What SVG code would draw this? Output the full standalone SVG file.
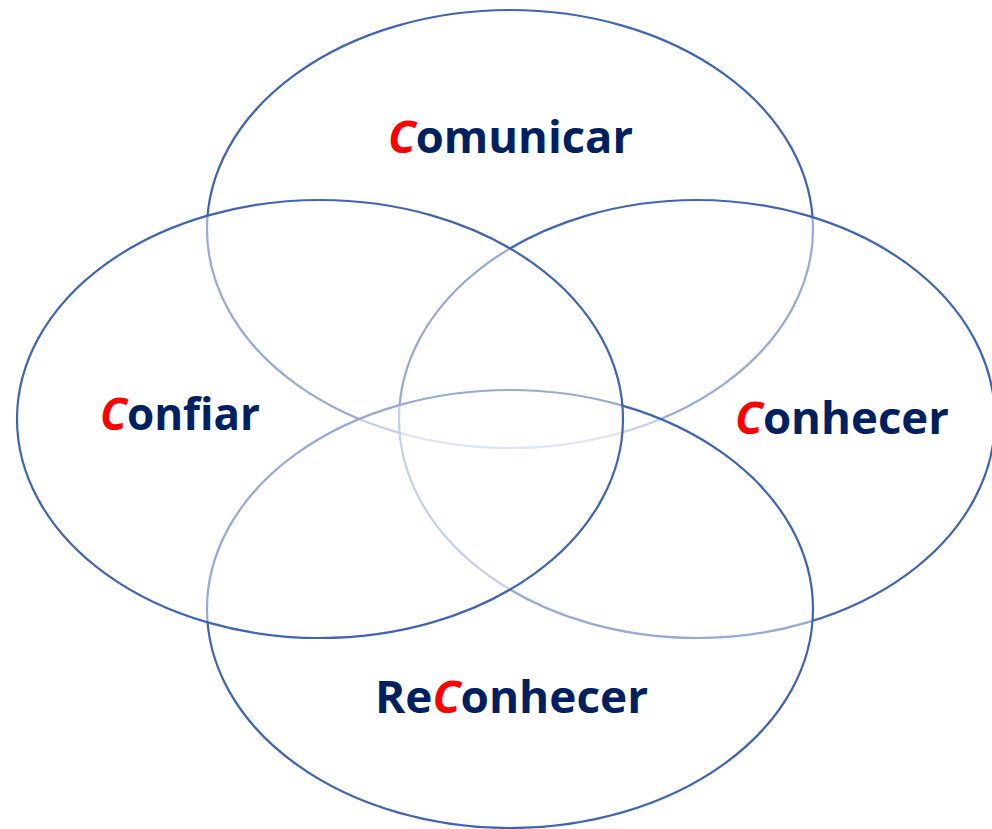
<svg xmlns="http://www.w3.org/2000/svg" width="992" height="829" viewBox="0 0 992 829">
<style>
.ov{fill:#ffffff;fill-opacity:0.45;stroke:#3f64b4;stroke-width:2.2}
.lbl{font-family:"Open Sans","Noto Sans","Liberation Sans",sans-serif;font-weight:bold;font-size:45px;fill:#002060}
.c{fill:#ff0000;font-style:italic}
</style>
<rect width="992" height="829" fill="#ffffff"/>
<g id="connectors"></g>
<g id="node-comunicar">
<ellipse class="ov" cx="510" cy="229" rx="303" ry="219"/>
</g>
<g id="node-conhecer">
<ellipse class="ov" cx="697" cy="419" rx="298" ry="219"/>
</g>
<g id="node-reconhecer">
<ellipse class="ov" cx="510" cy="609" rx="303" ry="219"/>
</g>
<g id="node-confiar">
<ellipse class="ov" cx="320" cy="419" rx="303" ry="219"/>
</g>
<g id="labels">
<text class="lbl" x="388" y="153" textLength="245" lengthAdjust="spacingAndGlyphs"><tspan class="c">C</tspan>omunicar</text>
<text class="lbl" x="100" y="430" textLength="160" lengthAdjust="spacingAndGlyphs"><tspan class="c">C</tspan>onfiar</text>
<text class="lbl" x="735" y="434" textLength="214" lengthAdjust="spacingAndGlyphs"><tspan class="c">C</tspan>onhecer</text>
<text class="lbl" x="375" y="713" textLength="273" lengthAdjust="spacingAndGlyphs">Re<tspan class="c">C</tspan>onhecer</text>
</g>
</svg>
